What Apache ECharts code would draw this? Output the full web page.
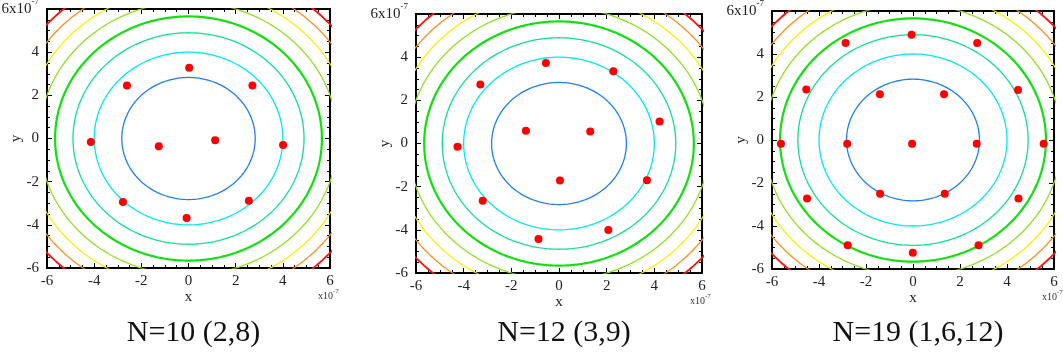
<!DOCTYPE html>
<html>
<head>
<meta charset="utf-8">
<script src="https://cdn.jsdelivr.net/npm/echarts@6/dist/echarts.min.js"></script>
<style>
html,body{margin:0;padding:0;background:#fff;}
#c{width:1063px;height:356px;}
</style>
</head>
<body>
<div id="c"></div>
<script>
// ---- data (units of 1e-7) ----
const titles = ['N=10 (2,8)', 'N=12 (3,9)', 'N=19 (1,6,12)'];
const points10 = [[0.03,3.28],[-2.61,2.45],[2.71,2.45],[-4.14,-0.16],[-1.26,-0.36],[1.13,-0.08],[4.01,-0.30],[-2.78,-2.94],[2.56,-2.88],[-0.08,-3.68]];
const points12 = [[-0.55,3.73],[2.28,3.35],[-3.30,2.73],[4.22,1.02],[-1.39,0.59],[1.31,0.56],[-4.26,-0.15],[0.04,-1.71],[3.69,-1.70],[-3.20,-2.65],[2.07,-4.01],[-0.86,-4.43]];
const points19 = [[-0.06,4.89],[-2.87,4.51],[2.73,4.51],[-4.54,2.35],[4.47,2.33],[-1.41,2.13],[1.32,2.13],[-5.62,-0.18],[-2.80,-0.18],[-0.04,-0.18],[2.71,-0.18],[5.56,-0.18],[-1.40,-2.50],[1.35,-2.50],[-4.51,-2.72],[4.49,-2.72],[-2.78,-4.89],[2.79,-4.89],[-0.01,-5.24]];
// contour levels of r^2 (units of 1e-14)
const contourLevels = [8, 16, 24, 32, 40, 48, 56, 64];
const contourColors = ['#1e80f0', '#00e8f0', '#10e090', '#10e010', '#90e020', '#f8f000', '#ff8c1c', '#ff1010'];
const contourWidths = [1.3, 1.3, 1.3, 2.2, 1.3, 1.3, 1.3, 1.8];
const axisMin = -6, axisMax = 6, axisInterval = 2;

const panelPoints = [points10, points12, points19];
const grids = [
  {left: 47, top: 9, width: 283, height: 259},
  {left: 416, top: 14, width: 286, height: 259},
  {left: 772, top: 11, width: 282, height: 258}
];
const FONT = '"Liberation Serif","Times New Roman",serif';

function circlePts(level) {
  const r = Math.sqrt(level), pts = [];
  for (let i = 0; i <= 360; i++) {
    const t = i * Math.PI / 180;
    pts.push([r * Math.cos(t), r * Math.sin(t)]);
  }
  return pts;
}

const option = {
  backgroundColor: '#fff',
  animation: false,
  grid: grids.map(g => Object.assign({containLabel: false, outerBoundsMode: 'none', show: false}, g)),
  xAxis: [], yAxis: [], series: [], title: [], graphic: []
};

grids.forEach((g, gi) => {
  const common = {
    gridIndex: gi, type: 'value', min: axisMin, max: axisMax, interval: axisInterval,
    splitLine: {show: false},
    axisLine: {show: true, onZero: false, lineStyle: {color: '#000', width: 2}},
    axisTick: {show: true, inside: true, length: 5, lineStyle: {color: '#000', width: 1}},
    minorTick: {show: true, splitNumber: 4, length: 3, lineStyle: {color: '#000', width: 1}}
  };
  option.xAxis.push(Object.assign({}, common, {
    position: 'bottom', name: 'x', nameLocation: 'middle', nameGap: 22, nameMoveOverlap: false,
    nameTextStyle: {fontFamily: FONT, fontSize: 15, color: '#222'},
    axisLabel: {fontFamily: FONT, fontSize: 15, color: '#222', margin: 6}
  }));
  option.xAxis.push(Object.assign({}, common, {position: 'top', axisLabel: {show: false}}));
  option.yAxis.push(Object.assign({}, common, {
    position: 'left', name: 'y', nameLocation: 'middle', nameGap: 23, nameRotate: 90, nameMoveOverlap: false,
    nameTextStyle: {fontFamily: FONT, fontSize: 15, color: '#222'},
    axisLabel: {
      fontFamily: FONT, fontSize: 15, color: '#222', margin: 8,
      formatter: v => v === axisMax ? '{b|' + v + 'x10}{s|-7}' : '{b|' + v + '}',
      rich: {
        b: {fontFamily: FONT, fontSize: 15, color: '#222', lineHeight: 24, verticalAlign: 'middle'},
        s: {fontFamily: FONT, fontSize: 9, color: '#222', lineHeight: 24, verticalAlign: 'top'}
      }
    }
  }));
  option.yAxis.push(Object.assign({}, common, {position: 'right', axisLabel: {show: false}}));

  contourLevels.forEach((lv, li) => {
    option.series.push({
      type: 'line', xAxisIndex: gi * 2, yAxisIndex: gi * 2, data: circlePts(lv),
      showSymbol: false, symbol: 'none', clip: true, smooth: false, silent: true,
      lineStyle: {color: contourColors[li], width: contourWidths[li]}, z: 2
    });
  });
  option.series.push({
    type: 'scatter', xAxisIndex: gi * 2, yAxisIndex: gi * 2, data: panelPoints[gi],
    symbol: 'circle', symbolSize: 8, itemStyle: {color: '#ff0000', opacity: 1}, z: 5
  });

  option.title.push({
    text: titles[gi], left: g.left + g.width / 2, top: 313, textAlign: 'center',
    textStyle: {fontFamily: FONT, fontSize: 30, fontWeight: 'normal', color: '#111'}
  });
  option.graphic.push({
    type: 'text', left: g.left + g.width - 12, top: g.top + g.height + 20,
    style: {
      text: '{a|x10}{s|-7}', fill: '#333',
      rich: {
        a: {fontFamily: FONT, fontSize: 10, fill: '#333', lineHeight: 16, verticalAlign: 'middle'},
        s: {fontFamily: FONT, fontSize: 7, fill: '#333', lineHeight: 16, verticalAlign: 'top'}
      }
    }
  });
});

const chart = echarts.init(document.getElementById('c'), null, {renderer: 'canvas'});
chart.setOption(option);
</script>
</body>
</html>
